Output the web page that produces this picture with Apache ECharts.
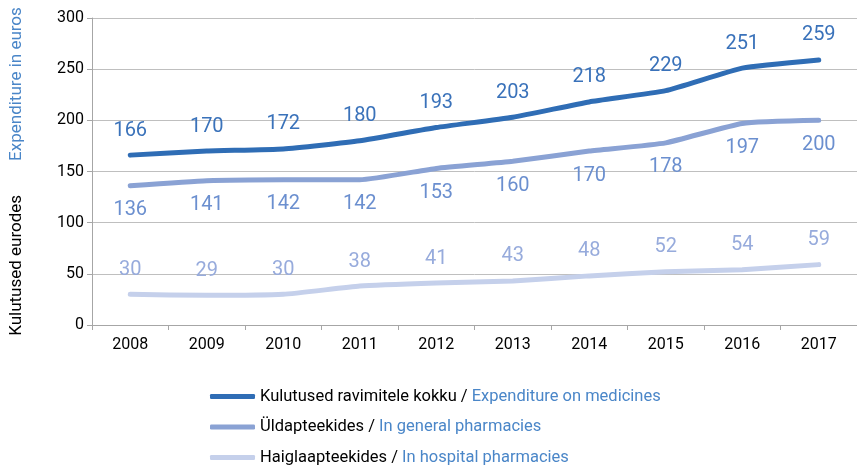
<!DOCTYPE html>
<html><head><meta charset="utf-8">
<script src="https://cdn.jsdelivr.net/npm/echarts@6/dist/echarts.min.js"></script>
<style>html,body{margin:0;padding:0;background:#fff}#c{width:857px;height:465px}</style>
</head><body><div id="c"></div>
<script>
const years = ['2008','2009','2010','2011','2012','2013','2014','2015','2016','2017'];
const total = [166,170,172,180,193,203,218,229,251,259];
const general = [136,141,142,142,153,160,170,178,197,200];
const hospital = [30,29,30,38,41,43,48,52,54,59];
const yTicks = [0,50,100,150,200,250,300];
const names = ['total','general','hospital'];
const legendEt = {total:'Kulutused ravimitele kokku / ', general:'Üldapteekides / ', hospital:'Haiglaapteekides / '};
const legendEn = {total:'Expenditure on medicines', general:'In general pharmacies', hospital:'In hospital pharmacies'};

const chart = echarts.init(document.getElementById('c'));
const F = 'Roboto';
function mk(name, data, color, labelColor, pos){
  return {name, type:'line', data, smooth:0.15, showSymbol:true, symbol:'circle', symbolSize:3,
    lineStyle:{width:5, color, cap:'round'}, itemStyle:{color},
    label:{show:true, position:pos, distance:13, color:labelColor, fontFamily:F, fontSize:20},
    emphasis:{disabled:true}};
}
chart.setOption({
  animation:false,
  grid:{left:92, top:18, bottom:140, width:769},
  xAxis:{type:'category', data:years, boundaryGap:true,
    axisLine:{lineStyle:{color:'#a6a6a6'}},
    axisTick:{show:true, length:5, lineStyle:{color:'#a6a6a6'}},
    axisLabel:{color:'#000', fontFamily:F, fontSize:16, margin:12}},
  yAxis:{type:'value', min:yTicks[0], max:yTicks[yTicks.length-1], interval:50,
    axisLine:{show:true, lineStyle:{color:'#a6a6a6'}},
    axisTick:{show:true, length:5, lineStyle:{color:'#a6a6a6'}},
    splitLine:{lineStyle:{color:'#bfbfbf', width:1}},
    axisLabel:{color:'#000', fontFamily:F, fontSize:16, margin:8},
    name:'{a|Kulutused eurodes}{b|Expenditure in euros}',
    nameLocation:'middle', nameRotate:90, nameGap:67,
    nameTextStyle:{rich:{a:{color:'#000', fontFamily:F, fontSize:17}, b:{color:'#4a86c8', fontFamily:F, fontSize:17, padding:[0,0,0,34]}}}},
  legend:{orient:'vertical', left:205, top:383, height:120, itemGap:13.5, itemWidth:45, itemHeight:5, icon:'roundRect',
    data:names,
    formatter:n=>'{a|'+legendEt[n]+'}{b|'+legendEn[n]+'}',
    textStyle:{rich:{a:{color:'#000', fontFamily:F, fontSize:16.5}, b:{color:'#4a86c8', fontFamily:F, fontSize:16.5}}}},
  series:[
    mk('total', total, '#2f6db5', '#3a72ba', 'top'),
    mk('general', general, '#8aa2d4', '#6b8fcf', 'bottom'),
    mk('hospital', hospital, '#c5d0eb', '#97abdc', 'top')
  ]
});
</script></body></html>
